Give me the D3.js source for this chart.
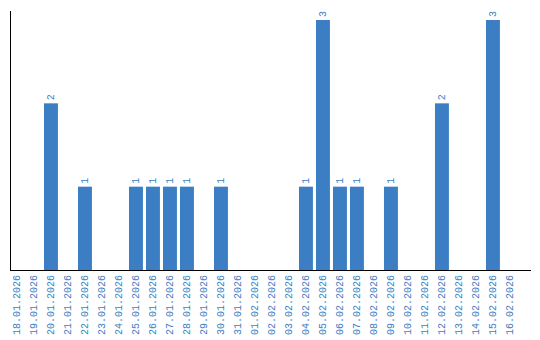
<!DOCTYPE html>
<meta charset="utf-8">
<title>Daily counts</title>
<style>
body { margin: 0; background: #fff; }
.axis path { stroke: #000; stroke-width: 1; shape-rendering: crispEdges; }
.axis text { fill: #3b7ec3; font: 10px "Liberation Mono", monospace; }
.bar { fill: #3b7ec3; }
.val { fill: #3b7ec3; font: 10px "Liberation Mono", monospace; }
</style>
<body>
<script src="https://d3js.org/d3.v7.min.js"></script>
<script>
// categories and values
var dates = ["18.01.2026","19.01.2026","20.01.2026","21.01.2026","22.01.2026","23.01.2026",
  "24.01.2026","25.01.2026","26.01.2026","27.01.2026","28.01.2026","29.01.2026","30.01.2026",
  "31.01.2026","01.02.2026","02.02.2026","03.02.2026","04.02.2026","05.02.2026","06.02.2026",
  "07.02.2026","08.02.2026","09.02.2026","10.02.2026","11.02.2026","12.02.2026","13.02.2026",
  "14.02.2026","15.02.2026","16.02.2026"];
var counts = [0,0,2,0,1,0,0,1,1,1,1,0,1,0,0,0,0,1,3,1,1,0,1,0,0,2,0,0,3,0];

var width = 540, height = 340;
var plot = {left: 10, right: 530, top: 10, bottom: 270};

var svg = d3.select("body").append("svg")
    .attr("width", width)
    .attr("height", height);

var x = d3.scaleBand()
    .domain(dates)
    .range([plot.left, plot.right])
    .paddingInner(0.18)
    .paddingOuter(0.385)
    .align(0);

var y = d3.scaleLinear()
    .domain([0, 3.12])
    .range([plot.bottom, plot.top]);

var data = dates.map(function(d, i) { return {date: d, value: counts[i]}; });
var nonZero = data.filter(function(d) { return d.value > 0; });

// bars
svg.selectAll(".bar")
    .data(nonZero)
  .enter().append("rect")
    .attr("class", "bar")
    .attr("x", function(d) { return x(d.date); })
    .attr("width", x.bandwidth())
    .attr("y", function(d) { return y(d.value); })
    .attr("height", function(d) { return y(0) - y(d.value); });

// value labels
svg.selectAll(".val")
    .data(nonZero)
  .enter().append("text")
    .attr("class", "val")
    .attr("transform", function(d) {
      return "translate(" + (x(d.date) + x.bandwidth() / 2 + 3.5) + "," + (y(d.value) - 3) + ") rotate(-90)";
    })
    .text(function(d) { return d.value; });

// x axis
svg.append("g")
    .attr("class", "axis")
    .attr("transform", "translate(0," + plot.bottom + ")")
    .call(d3.axisBottom(x).tickSize(0).tickSizeOuter(0))
    .selectAll("text")
    .attr("text-anchor", "end")
    .attr("dy", "0.35em")
    .attr("y", 0)
    .attr("x", -5)
    .attr("transform", "rotate(-90)");

// y axis
svg.append("g")
    .attr("class", "axis")
    .attr("transform", "translate(" + plot.left + ",0)")
    .call(d3.axisLeft(y).tickValues([]).tickSizeOuter(0));
</script>
</body>
